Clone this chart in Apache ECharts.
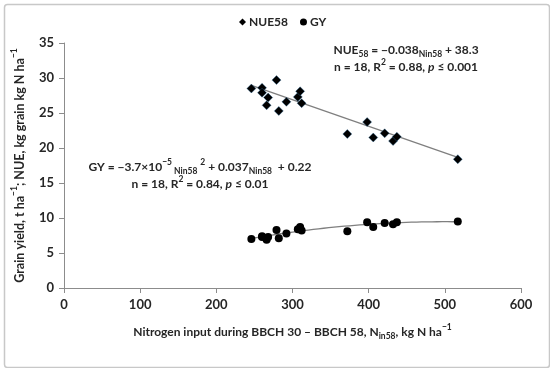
<!DOCTYPE html>
<html>
<head>
<meta charset="utf-8">
<script src="https://cdn.jsdelivr.net/npm/echarts@6/dist/echarts.min.js"></script>
<style>html,body{margin:0;padding:0;background:#fff}#c{width:550px;height:368px}</style>
</head>
<body>
<div id="c"></div>
<script>
// Data
var nitrogenInput = [246, 260, 260, 279, 268, 266, 282, 292, 307, 310, 312, 372, 398, 406, 421, 432, 437, 517];
var nue58 = [28.5, 28.6, 27.9, 29.7, 27.2, 26.1, 25.3, 26.6, 27.3, 28.1, 26.4, 22.0, 23.7, 21.5, 22.1, 21.0, 21.6, 18.4];
var grainYield = [7.0, 7.4, 7.3, 8.3, 7.3, 6.9, 7.1, 7.8, 8.4, 8.7, 8.2, 8.1, 9.4, 8.7, 9.3, 9.1, 9.4, 9.5];
var xTicks = [0, 100, 200, 300, 400, 500, 600];
var yTicks = [0, 5, 10, 15, 20, 25, 30, 35];
// Regression coefficients shown on the chart
var nueFit = [-0.038, 38.3];            // slope, intercept
var gyFit = [-3.7e-5, 0.037, 0.22];     // a, b, c

var FONT = 'Lato';
var TXT = '#262626';
var xMin = Math.min.apply(null, nitrogenInput);
var xMax = Math.max.apply(null, nitrogenInput);
var nueLine = [[xMin, nueFit[0] * xMin + nueFit[1]], [xMax, nueFit[0] * xMax + nueFit[1]]];
var gyLine = [];
for (var i = 0; i <= 40; i++) {
  var x = xMin + (xMax - xMin) * i / 40;
  gyLine.push([x, gyFit[0] * x * x + gyFit[1] * x + gyFit[2]]);
}
var nuePts = nitrogenInput.map(function (x, i) { return [x, nue58[i]]; });
var gyPts = nitrogenInput.map(function (x, i) { return [x, grainYield[i]]; });

var sub = { fontSize: 8.5, fontFamily: FONT, fontWeight: 'bold', color: TXT, verticalAlign: 'bottom', padding: [0, 0, -3, 0] };
var sup = { fontSize: 8.5, fontFamily: FONT, fontWeight: 'bold', color: TXT, verticalAlign: 'top', padding: [-3, 0, 0, 0] };
var it = { fontStyle: 'italic', fontWeight: 'bold', fontSize: 12, fontFamily: FONT, color: TXT };

var chart = echarts.init(document.getElementById('c'), null, { renderer: 'canvas' });
chart.setOption({
  animation: false,
  backgroundColor: '#fff',
  grid: { left: 64, right: 29, top: 43, bottom: 80 },
  legend: {
    top: 11, left: 234,
    itemWidth: 7, itemHeight: 7, itemGap: 12,
    textStyle: { fontFamily: FONT, fontWeight: 'bold', fontSize: 12, color: TXT, padding: [0, 0, 0, -2] },
    data: [
      { name: 'NUE58', icon: 'diamond', itemStyle: { color: '#000', borderWidth: 0 } },
      { name: 'GY', icon: 'circle', itemStyle: { color: '#000', borderWidth: 0 } }
    ]
  },
  xAxis: {
    type: 'value', min: xTicks[0], max: xTicks[xTicks.length - 1], interval: 100,
    splitLine: { show: false },
    axisLine: { lineStyle: { color: '#8c8c8c' } },
    axisTick: { show: true, length: 5, lineStyle: { color: '#8c8c8c' } },
    axisLabel: { fontFamily: FONT, fontWeight: 'bold', fontSize: 13, color: TXT, margin: 10 },
    name: 'Nitrogen input during BBCH 30 – BBCH 58, N{sub|in58}, kg N ha{sup|−1}',
    nameLocation: 'middle', nameGap: 38,
    nameTextStyle: { fontFamily: FONT, fontWeight: 'bold', fontSize: 12, color: TXT, rich: { sub: sub, sup: sup } }
  },
  yAxis: {
    type: 'value', min: yTicks[0], max: yTicks[yTicks.length - 1], interval: 5,
    splitLine: { show: false },
    axisLine: { show: true, lineStyle: { color: '#8c8c8c' } },
    axisTick: { show: true, length: 5, lineStyle: { color: '#8c8c8c' } },
    axisLabel: { fontFamily: FONT, fontWeight: 'bold', fontSize: 13, color: TXT, margin: 10 },
    name: 'Grain yield, t ha{sup|−1}; NUE, kg grain kg N ha{sup|−1}',
    nameLocation: 'middle', nameGap: 38, nameRotate: 90,
    nameTextStyle: { fontFamily: FONT, fontWeight: 'bold', fontSize: 12.5, color: TXT, rich: { sup: sup } }
  },
  series: [
    { name: 'NUE58 fit', type: 'line', data: nueLine, showSymbol: false, silent: true,
      lineStyle: { color: '#7f7f7f', width: 1.3 }, z: 1 },
    { name: 'GY fit', type: 'line', data: gyLine, showSymbol: false, silent: true,
      lineStyle: { color: '#7f7f7f', width: 1.3 }, z: 1 },
    { name: 'NUE58', type: 'scatter', data: nuePts, symbol: 'diamond', symbolSize: 9,
      itemStyle: { color: '#000', borderColor: '#2a6a9a', borderWidth: 0.4, opacity: 1 }, z: 3 },
    { name: 'GY', type: 'scatter', data: gyPts, symbol: 'circle', symbolSize: 8,
      itemStyle: { color: '#000', opacity: 1 }, z: 3 }
  ],
  graphic: [
    { type: 'rect', left: 2, top: 2, shape: { width: 545, height: 363, r: 3 },
      style: { fill: 'none', stroke: '#c8c8c8', lineWidth: 1.5 }, silent: true },
    { type: 'text', x: 406, y: 50, style: {
      text: 'NUE{sub|58} = −0.038{sub|Nin58} + 38.3', align: 'center', verticalAlign: 'middle',
      font: 'bold 12px ' + FONT, fill: TXT, rich: { sub: sub } } },
    { type: 'text', x: 406, y: 67, style: {
      text: 'n = 18, R{sup|2} = 0.88, {it|p} ≤ 0.001', align: 'center', verticalAlign: 'middle',
      font: 'bold 12px ' + FONT, fill: TXT, rich: { sup: sup, it: it } } },
    { type: 'text', x: 200, y: 167, style: {
      text: 'GY = −3.7×10{sup|−5}{sub| Nin58} {sup|2} + 0.037{sub|Nin58}  + 0.22', align: 'center', verticalAlign: 'middle',
      font: 'bold 12px ' + FONT, fill: TXT, rich: { sub: sub, sup: sup } } },
    { type: 'text', x: 200, y: 184, style: {
      text: 'n = 18, R{sup|2} = 0.84, {it|p} ≤ 0.01', align: 'center', verticalAlign: 'middle',
      font: 'bold 12px ' + FONT, fill: TXT, rich: { sup: sup, it: it } } }
  ]
});
</script>
</body>
</html>
